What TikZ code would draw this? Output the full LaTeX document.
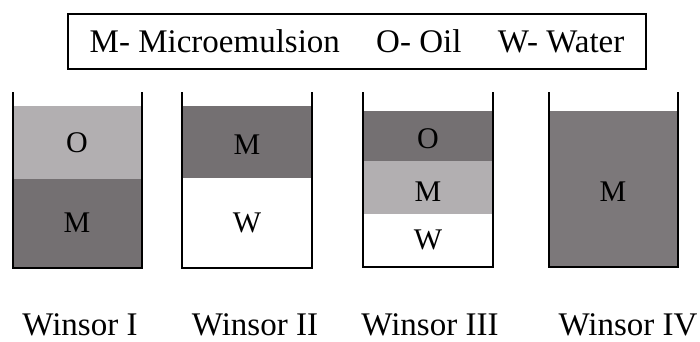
\documentclass[tikz,border=0pt]{standalone}
\usepackage{fontspec}
\setmainfont{Liberation Serif}
\definecolor{phaselight}{RGB}{178,175,177}
\definecolor{phasedark}{RGB}{116,112,114}
\definecolor{phasemid}{RGB}{124,120,122}
\begin{document}
\begin{tikzpicture}[x=1bp, y=-1bp,
		wall/.style={line width=2bp, black},
		phase/.style={font=\fontsize{30bp}{32bp}\selectfont, inner sep=0pt},
		caption/.style={font=\fontsize{33bp}{36bp}\selectfont, anchor=base, inner sep=0pt},
		legendbox/.style={draw, line width=1.4bp, minimum width=578bp, minimum height=55bp, font=\fontsize{33bp}{36bp}\selectfont}]
			\useasboundingbox (0,0) rectangle (700,341);
			\node[legendbox] (legend) at (357,41.5) {M- Microemulsion\hspace{1.1em}O- Oil\hspace{1.1em}W- Water};
			\fill[phaselight] (13,106) rectangle (142,179);
			\fill[phasedark] (13,179) rectangle (142,268);
			\draw[wall] (13,92) -- (13,268) -- (142,268) -- (142,92);
			\node[phase] (oilA) at (77,143) {O};
			\node[phase] (microA) at (77,223) {M};
			\fill[phasedark] (182,106) rectangle (312,178);
			\draw[wall] (182,92) -- (182,268) -- (312,268) -- (312,92);
			\node[phase] (microB) at (247,145) {M};
			\node[phase] (waterB) at (247,223) {W};
			\fill[phasedark] (363,111) rectangle (493,161);
			\fill[phaselight] (363,161) rectangle (493,214);
			\draw[wall] (363,92) -- (363,267) -- (493,267) -- (493,92);
			\node[phase] (oilC) at (428,139) {O};
			\node[phase] (microC) at (428,192) {M};
			\node[phase] (waterC) at (428,240) {W};
			\fill[phasemid] (549,111) rectangle (678,267);
			\draw[wall] (549,92) -- (549,267) -- (678,267) -- (678,92);
			\node[phase] (microD) at (613,192) {M};
			\node[caption] (winsorA) at (80,335) {Winsor I};
			\node[caption] (winsorB) at (255,335) {Winsor II};
			\node[caption] (winsorC) at (430,335) {Winsor III};
			\node[caption] (winsorD) at (628,335) {Winsor IV};
		\end{tikzpicture}
\end{document}
